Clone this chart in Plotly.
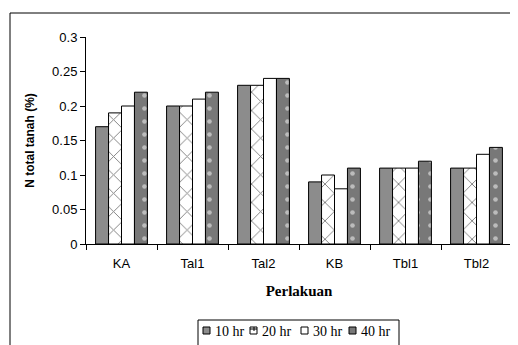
import plotly.graph_objects as go

categories = ["KA", "Tal1", "Tal2", "KB", "Tbl1", "Tbl2"]
series_names = ["10 hr", "20 hr", "30 hr", "40 hr"]
v10 = [0.17, 0.20, 0.23, 0.09, 0.11, 0.11]
v20 = [0.19, 0.20, 0.23, 0.10, 0.11, 0.11]
v30 = [0.20, 0.21, 0.24, 0.08, 0.11, 0.13]
v40 = [0.22, 0.22, 0.24, 0.11, 0.12, 0.14]
y_ticks = [0, 0.05, 0.1, 0.15, 0.2, 0.25, 0.3]
y_tick_text = ["0", "0.05", "0.1", "0.15", "0.2", "0.25", "0.3"]

C10, C40 = "#8c8c8c", "#787878"
fig = go.Figure()
line = dict(color="black", width=1)
fig.add_trace(go.Bar(name=series_names[0], x=categories, y=v10,
                     marker=dict(color=C10, line=line)))
fig.add_trace(go.Bar(name=series_names[1], x=categories, y=v20,
                     marker=dict(color="white", line=line,
                                 pattern=dict(shape="x", fgcolor="black", bgcolor="white",
                                              size=13, solidity=0.14))))
fig.add_trace(go.Bar(name=series_names[2], x=categories, y=v30,
                     marker=dict(color="white", line=line)))
fig.add_trace(go.Bar(name=series_names[3], x=categories, y=v40,
                     marker=dict(color=C40, line=line,
                                 pattern=dict(shape=".", fgcolor="white", bgcolor=C40,
                                              size=13, solidity=0.1))))

# page has an 8px body margin: the figure is drawn 8px right/down of the window origin
OFF = 8
W_PX, H_PX = 518 - OFF, 345 - OFF
L, T, W, H = 86 - OFF, 37 - OFF, 426, 207


def px(x):  # screen pixel -> paper
    return (x - OFF - L) / W


def py(y):
    return 1 - (y - OFF - T) / H


shapes = [dict(type="rect", xref="paper", yref="paper",
               x0=px(10), x1=px(560), y0=py(420), y1=py(13),
               line=dict(color="black", width=1), layer="below")]
annotations = []

# custom legend (box + swatches + labels)
shapes.append(dict(type="rect", xref="paper", yref="paper",
                   x0=px(198), x1=px(399), y0=py(370), y1=py(320),
                   line=dict(color="black", width=1), fillcolor="white", layer="above"))
sw_x = [203, 250, 301, 349]
sw_fill = [C10, "white", "white", C40]
for i, name in enumerate(series_names):
    x0 = sw_x[i]
    shapes.append(dict(type="rect", xref="paper", yref="paper",
                       x0=px(x0), x1=px(x0 + 7), y0=py(334), y1=py(327),
                       line=dict(color="black", width=1), fillcolor=sw_fill[i], layer="above"))
    annotations.append(dict(xref="paper", yref="paper", x=px(x0 + 10), y=py(331),
                            xanchor="left", yanchor="middle", showarrow=False, text=name,
                            font=dict(family="Times New Roman, Liberation Serif", size=14,
                                      color="black")))
# small pattern hints in the 20 hr swatch
shapes.append(dict(type="line", xref="paper", yref="paper",
                   x0=px(250), x1=px(257), y0=py(329), y1=py(329),
                   line=dict(color="black", width=1), layer="above"))
shapes.append(dict(type="line", xref="paper", yref="paper",
                   x0=px(254), x1=px(254), y0=py(327), y1=py(331),
                   line=dict(color="black", width=1), layer="above"))

fig.update_layout(
    width=W_PX, height=H_PX,
    margin=dict(l=L, r=W_PX - L - W, t=T, b=H_PX - T - H),
    paper_bgcolor="white", plot_bgcolor="white",
    barmode="group", bargap=0.27, bargroupgap=0,
    font=dict(family="Arial, Liberation Sans", size=13, color="black"),
    showlegend=False,
    xaxis=dict(showline=True, linecolor="black", linewidth=1, automargin=False,
               ticks="outside", ticklen=5, tickson="boundaries", tickcolor="black",
               ticklabelstandoff=7, showgrid=False,
               title=dict(text="<b>Perlakuan</b>", standoff=15,
                          font=dict(family="Times New Roman, Liberation Serif", size=15))),
    yaxis=dict(range=[0, 0.3], tickvals=y_ticks, ticktext=y_tick_text, automargin=False,
               showline=True, linecolor="black", linewidth=1,
               ticks="outside", ticklen=5, tickcolor="black", showgrid=False, zeroline=False,
               title=dict(text="<b>N total tanah (%)</b>", standoff=14,
                          font=dict(family="Arial, Liberation Sans", size=12))),
    shapes=shapes,
    annotations=annotations,
)

fig.write_html("out.html")
